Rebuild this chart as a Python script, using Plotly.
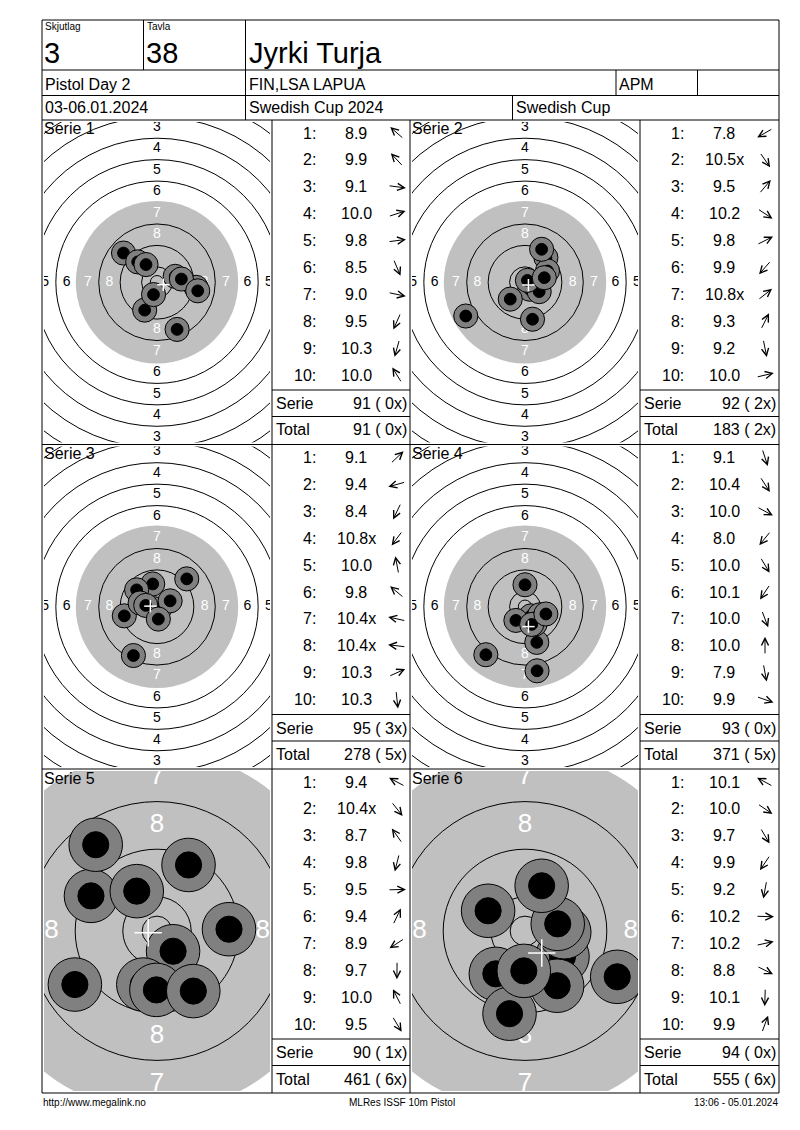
import math
import plotly.graph_objects as go

W, H = 800, 1130
FONT = "Liberation Sans, Arial, sans-serif"

# header texts
relay_label, relay = "Skjutlag", "3"
lane_label, lane = "Tavla", "38"
shooter = "Jyrki Turja"
match_name = "Pistol Day 2"
club = "FIN,LSA LAPUA"
shooter_class = "APM"
dates = "03-06.01.2024"
competition = "Swedish Cup 2024"
cup = "Swedish Cup"
footer_left = "http://www.megalink.no"
footer_mid = "MLRes ISSF 10m Pistol"
footer_right = "13:06 - 05.01.2024"

# ISSF 10m pistol target, ring diameters in mm (ring 1 .. ring 10)
ring_numbers = [1, 2, 3, 4, 5, 6, 7, 8, 9, 10]
ring_diam = [155.5, 139.5, 123.5, 107.5, 91.5, 75.5, 59.5, 43.5, 27.5, 11.5]
inner_ten_diam = 5.0
black_diam = 60.6   # grey aiming area as drawn

# shot values and positions (mm from centre, y up) per series
scores_s1 = ["8.9", "9.9", "9.1", "10.0", "9.8", "8.5", "9.0", "9.5", "10.3", "10.0"]
x_s1 = [-12.5, -7.2, 14.6, 6.8, 9.1, 7.5, 15.2, -4.6, -1.3, -4.1]
y_s1 = [10.9, 7.6, -1.9, 2.2, 1.2, -17.6, -3.2, -10.4, -4.6, 6.6]

scores_s2 = ["7.8", "10.5x", "9.5", "10.2", "9.8", "9.9", "10.8x", "9.3", "9.2", "10.0"]
x_s2 = [-22.1, 1.8, 7.8, 5.3, 8.4, -5.5, 0.9, 6.2, 2.8, 7.2]
y_s2 = [-12.6, -2.6, 9.2, -3.5, 4.2, -6.3, 0.7, 12.3, -13.8, 1.7]

scores_s3 = ["9.1", "9.4", "8.4", "10.8x", "10.0", "9.8", "10.4x", "10.4x", "10.3", "10.3"]
x_s3 = [11.1, -12.2, -8.8, -0.6, -1.6, -7.6, -6.3, -4.2, 4.9, 0.5]
y_s3 = [10.4, -3.4, -18.2, -0.8, 8.5, 6.3, 1.4, 0.5, 2.2, -4.6]

scores_s4 = ["9.1", "10.4", "10.0", "8.0", "10.0", "10.1", "10.0", "10.0", "7.9", "9.9"]
x_s4 = [4.4, 2.2, 5.5, -14.6, 3.8, -3.4, 2.5, 0.0, 4.5, 7.8]
y_s4 = [-13.3, -3.4, -3.0, -17.9, -6.4, -5.1, -6.6, 8.2, -23.9, -2.7]

scores_s5 = ["9.4", "10.4x", "8.7", "9.8", "9.5", "9.4", "8.9", "9.7", "10.0", "9.5"]
x_s5 = [-11.1, 2.7, -10.3, -2.3, 12.1, 5.3, -13.8, -0.1, -3.4, 6.1]
y_s5 = [5.9, -3.4, 14.5, -9.0, 0.3, 11.1, -9.0, -9.9, 6.7, -10.1]

scores_s6 = ["10.1", "10.0", "9.7", "9.9", "9.2", "10.2", "10.2", "8.8", "10.1", "9.9"]
x_s6 = [-6.2, 6.3, 5.4, -4.9, -2.6, 6.6, 5.5, 15.5, -0.2, 2.8]
y_s6 = [3.4, -4.3, -9.2, -7.2, -13.9, -0.2, 1.2, -7.7, -6.7, 7.6]

series = [
    ("Serie 1", scores_s1, x_s1, y_s1),
    ("Serie 2", scores_s2, x_s2, y_s2),
    ("Serie 3", scores_s3, x_s3, y_s3),
    ("Serie 4", scores_s4, x_s4, y_s4),
    ("Serie 5", scores_s5, x_s5, y_s5),
    ("Serie 6", scores_s6, x_s6, y_s6),
]

# page layout (pixels)
left, right, top, bottom = 42, 779, 20, 1093
row_edges = [120, 444.5, 769, 1093]
target_cols = [(42, 272), (410, 640)]
table_cols = [(272, 410), (640, 779)]
zoom = [2.68, 2.68, 2.68, 2.68, 5.95, 5.95]   # px per mm
label_size = [14, 14, 14, 14, 26, 26]

fig = go.Figure()
shapes = []
annots = []


def PX(x):
    return x / W


def PY(y):
    return 1 - y / H


def line(x0, y0, x1, y1, color="black", width=1):
    shapes.append(dict(type="line", xref="paper", yref="paper",
                       x0=PX(x0), y0=PY(y0), x1=PX(x1), y1=PY(y1),
                       line=dict(color=color, width=width)))


def text(x, y, s, size, anchor="left", color="black", family=FONT):
    annots.append(dict(xref="paper", yref="paper", x=PX(x), y=PY(y), text=s,
                       showarrow=False, xanchor=anchor, yanchor="middle",
                       borderpad=0, font=dict(size=size, color=color, family=family)))


def circle(xr, yr, cx, cy, r, fill, lcolor, lwidth, layer):
    shapes.append(dict(type="circle", xref=xr, yref=yr, layer=layer,
                       x0=cx - r, x1=cx + r, y0=cy - r, y1=cy + r,
                       fillcolor=fill, line=dict(color=lcolor, width=lwidth)))


# ---- header ----
line(left, top, right, top)
line(left, top, left, bottom)
line(right, top, right, bottom)
line(left, bottom, right, bottom)
line(left, 70, right, 70)
line(left, 95.5, right, 95.5)
line(left, 120, right, 120)
line(143.5, top, 143.5, 70)
line(245.5, top, 245.5, 120)
line(616, 70, 616, 95.5)
line(697.5, 70, 697.5, 95.5)
line(512.5, 95.5, 512.5, 120)

text(44, 27, relay_label, 10)
text(43, 53, relay, 29)
text(146, 27, lane_label, 10)
text(145, 53, lane, 29)
text(248, 53, shooter, 29)
text(44, 84, match_name, 16)
text(248, 84, club, 16)
text(618, 84, shooter_class, 16)
text(44, 108, dates, 16)
text(248, 108, competition, 16)
text(515, 108, cup, 16)

# panel grid
for yy in row_edges[1:3]:
    line(left, yy, right, yy)
for xx in (272, 410, 640):
    line(xx, 120, xx, bottom)

# ---- targets + tables ----
total = 0
total_x = 0
for k, (name, scores, xs, ys) in enumerate(series):
    r, c = divmod(k, 2)
    ry0, ry1 = row_edges[r], row_edges[r + 1]
    tx0, tx1 = target_cols[c]
    sc = zoom[k]
    aid = "" if k == 0 else str(k + 1)
    xr, yr = "x" + aid, "y" + aid
    dx0, dx1, dy0, dy1 = tx0 + 2, tx1 - 2, ry0 + 2, ry1 - 2
    hw = (dx1 - dx0) / 2 / sc
    hh = (dy1 - dy0) / 2 / sc
    fig.update_layout(**{
        "xaxis" + aid: dict(domain=[PX(dx0), PX(dx1)], range=[-hw, hw], visible=False,
                            anchor=yr, fixedrange=True),
        "yaxis" + aid: dict(domain=[PY(dy1), PY(dy0)], range=[-hh, hh], visible=False,
                            anchor=xr, fixedrange=True),
    })

    # aiming mark and rings
    circle(xr, yr, 0, 0, black_diam / 2, "#c0c0c0", "rgba(0,0,0,0)", 0, "below")
    for n, d in zip(ring_numbers, ring_diam):
        if n == 7:
            continue
        circle(xr, yr, 0, 0, d / 2, "rgba(0,0,0,0)", "black", 1, "below")
    circle(xr, yr, 0, 0, inner_ten_diam / 2, "rgba(0,0,0,0)", "black", 1, "below")

    # ring numbers (only those that at least partly fall inside the panel)
    half_char = 0.3 * label_size[k] / sc
    lx, ly, lt, lc = [], [], [], []
    for n, d in zip(ring_numbers, ring_diam):
        if n > 8:
            continue
        rr = d / 2 - 4
        col = "white" if rr < black_diam / 2 else "black"
        for px_, py_ in ((0, rr), (0, -rr), (-rr, 0), (rr, 0)):
            if abs(px_) - half_char > hw or abs(py_) - half_char * 1.2 > hh:
                continue
            lx.append(px_)
            ly.append(py_)
            lt.append(str(n))
            lc.append(col)
    fig.add_trace(go.Scatter(x=lx, y=ly, text=lt, mode="text", xaxis=xr, yaxis=yr,
                             textfont=dict(size=label_size[k], color=lc, family=FONT),
                             hoverinfo="skip", showlegend=False, cliponaxis=True))

    # shots
    for sx, sy in zip(xs, ys):
        circle(xr, yr, sx, sy, 4.5, "#808080", "black", 1, "above")
        circle(xr, yr, sx, sy, 2.2, "black", "black", 1, "above")
    mx = sum(xs) / len(xs)
    my = sum(ys) / len(ys)
    for ax0, ay0, ax1, ay1 in ((mx - 2.3, my, mx + 2.3, my), (mx, my - 2.3, mx, my + 2.3)):
        shapes.append(dict(type="line", xref=xr, yref=yr, layer="above",
                           x0=ax0, y0=ay0, x1=ax1, y1=ay1,
                           line=dict(color="white", width=1.5)))

    text(tx0 + 1, ry0 + 9, name, 16)

    # table
    bx0, bx1 = table_cols[c]
    for i, (s, sx, sy) in enumerate(zip(scores, xs, ys)):
        yy = ry0 + 13 + 26.9 * i
        text(bx0 + 45, yy, f"{i + 1}:", 16, anchor="right")
        text(bx0 + 84, yy, s, 16, anchor="center")
        th = math.atan2(sy, sx)
        L = 18
        cx, cy = bx0 + 125, yy
        annots.append(dict(xref="paper", yref="paper",
                           x=PX(cx + L / 2 * math.cos(th)), y=PY(cy - L / 2 * math.sin(th)),
                           ax=-L * math.cos(th), ay=L * math.sin(th), text="",
                           showarrow=True, arrowhead=5, arrowsize=1.4, arrowwidth=1,
                           arrowcolor="black"))
    serie_sum = sum(int(float(s.rstrip("x"))) for s in scores)
    serie_x = sum(1 for s in scores if s.endswith("x"))
    total += serie_sum
    total_x += serie_x
    line(bx0, ry0 + 270, bx1, ry0 + 270)
    line(bx0, ry0 + 296.5, bx1, ry0 + 296.5)
    text(bx0 + 3, ry0 + 283.5, "Serie", 16)
    text(bx1 - 2, ry0 + 283.5, f"{serie_sum} ({serie_x:2d}x)", 16, anchor="right")
    text(bx0 + 3, ry0 + 310, "Total", 16)
    text(bx1 - 2, ry0 + 310, f"{total} ({total_x:2d}x)", 16, anchor="right")

# footer
FOOT = "Liberation Sans Narrow, Arial Narrow, Liberation Sans, sans-serif"
text(42, 1102, footer_left, 10, family=FOOT)
text(402, 1102, footer_mid, 10, anchor="center", family=FOOT)
text(779, 1102, footer_right, 10, anchor="right", family=FOOT)

fig.update_layout(width=W, height=H, margin=dict(l=0, r=0, t=0, b=0),
                  paper_bgcolor="white", plot_bgcolor="white",
                  showlegend=False, shapes=shapes, annotations=annots,
                  font=dict(family=FONT, color="black"))

fig.write_html("out.html", config={"displayModeBar": False},
               post_script="document.body.style.margin='0';")
